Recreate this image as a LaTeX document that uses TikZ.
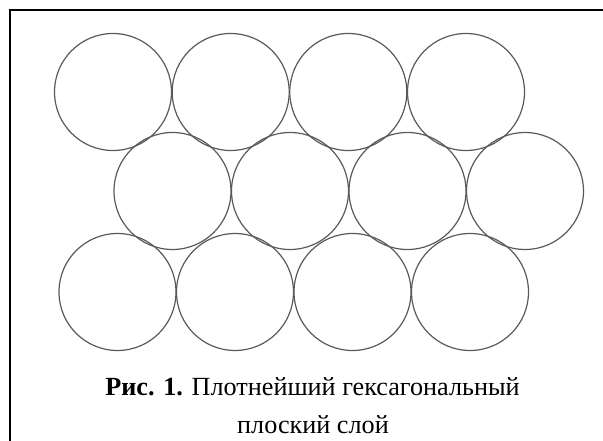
\documentclass[tikz,border=0pt]{standalone}
\usepackage{fontspec}
\setmainfont{Liberation Serif}
\begin{document}
\begin{tikzpicture}[x=1pt,y=-1pt,
  ball/.style={circle,draw=black!65,line width=1.2pt,minimum size=117pt,inner sep=0pt},
  frameline/.style={line width=2pt,black},
  captext/.style={anchor=base,inner sep=0pt,font=\fontsize{26.2}{30}\selectfont}]
\useasboundingbox (0,0) rectangle (603,441);
\draw[frameline] (10,441) -- (10,10) -- (603,10);
% row 1
\foreach \i/\x in {1/113,2/230.7,3/348.3,4/466}
  \node[ball] (a\i) at (\x,92) {};
% row 2
\foreach \i/\x in {1/172.5,2/290,3/407.5,4/525}
  \node[ball] (b\i) at (\x,191) {};
% row 3
\foreach \i/\x in {1/117.5,2/235,3/352.5,4/470}
  \node[ball] (c\i) at (\x,292) {};
\node[captext] (cap1) at (312.5,395) {\textbf{Рис. 1.} Плотнейший гексагональный};
\node[captext] (cap2) at (313,433) {плоский слой};
\end{tikzpicture}
\end{document}
